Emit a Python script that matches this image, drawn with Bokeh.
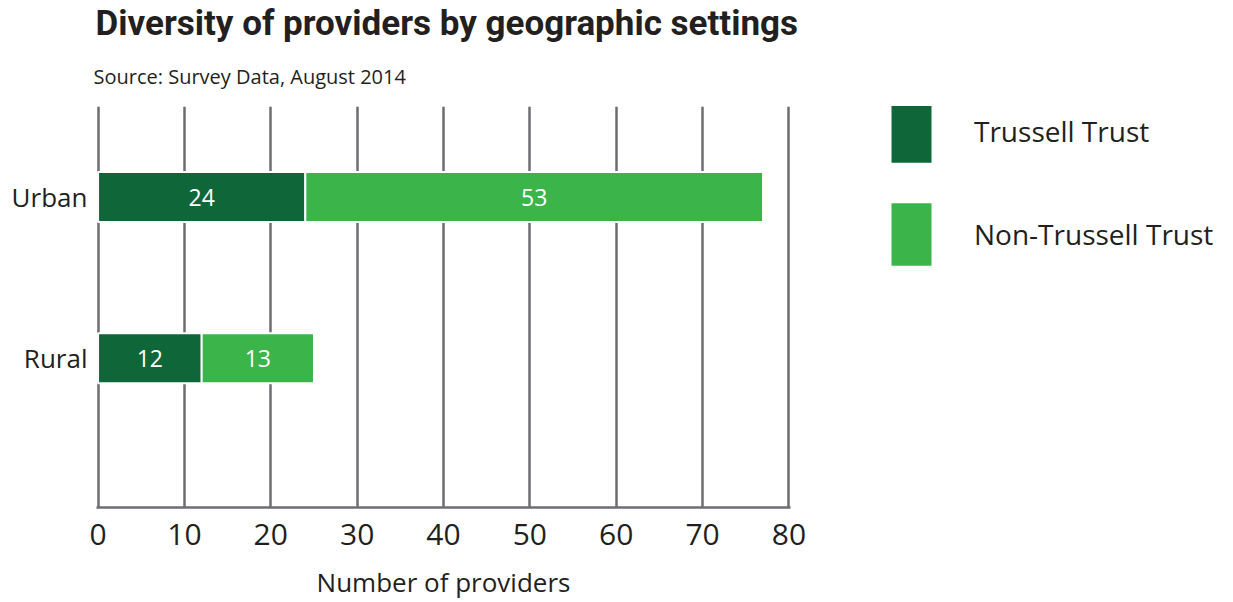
from bokeh.plotting import figure
from bokeh.layouts import row
from bokeh.models import (Range1d, FixedTicker, Legend, LegendItem, Title,
                          ColumnDataSource, LabelSet)
from bokeh.core.properties import value
from bokeh.embed import file_html
from bokeh.resources import INLINE

# ---- data ----
categories = ["Urban", "Rural"]
trussell = [24, 12]
non_trussell = [53, 13]
series_names = ["Trussell Trust", "Non-Trussell Trust"]
x_ticks = [0, 10, 20, 30, 40, 50, 60, 70, 80]

DARK = "#0f6638"
LIGHT = "#3bb54a"
GRID = "#6d6e71"
TEXT = "#231f20"
FONT = "Open Sans"

n = len(categories)
ypos = [n - i - 0.5 for i in range(n)]

src = ColumnDataSource(dict(
    y=ypos, cat=categories, tt=trussell, nt=non_trussell,
    tt_mid=[v / 2 for v in trussell],
    nt_mid=[a + b / 2 for a, b in zip(trussell, non_trussell)],
    nt_end=[a + b for a, b in zip(trussell, non_trussell)],
    tt_lbl=[str(v) for v in trussell],
    nt_lbl=[str(v) for v in non_trussell],
))

p = figure(width=860, height=602, output_backend="svg", toolbar_location=None,
           x_range=Range1d(-0.18, 80.18), y_range=Range1d(-0.426, 2.062),
           min_border_left=96, min_border_right=70, min_border_top=103,
           min_border_bottom=94, outline_line_color=None, title=None)
p.background_fill_color = "white"
p.border_fill_color = "white"

r1 = p.hbar(y="y", left=0, right="tt", height=0.31, source=src,
            fill_color=DARK, line_color="white", line_width=2)
r2 = p.hbar(y="y", left="tt", right="nt_end", height=0.31, source=src,
            fill_color=LIGHT, line_color="white", line_width=2)

for xcol, tcol in (("tt_mid", "tt_lbl"), ("nt_mid", "nt_lbl")):
    p.add_layout(LabelSet(x=xcol, y="y", text=tcol, source=src,
                          text_color="white", text_font=value(FONT),
                          text_font_size="23px", text_align="center",
                          text_baseline="middle"))

# x axis
xa = p.xaxis[0]
xa.ticker = FixedTicker(ticks=x_ticks)
xa.axis_line_color = GRID
xa.axis_line_width = 2.5
xa.major_tick_line_color = None
xa.minor_tick_line_color = None
xa.major_label_text_font = FONT
xa.major_label_text_font_size = "30px"
xa.major_label_text_color = TEXT
xa.major_label_standoff = 10
xa.axis_label = "Number of providers"
xa.axis_label_text_font = FONT
xa.axis_label_text_font_size = "26px"
xa.axis_label_text_font_style = "normal"
xa.axis_label_text_color = TEXT
xa.axis_label_standoff = 16

# y axis
ya = p.yaxis[0]
ya.ticker = FixedTicker(ticks=ypos)
ya.major_label_overrides = {y: c for y, c in zip(ypos, categories)}
ya.axis_line_color = None
ya.major_tick_line_color = None
ya.minor_tick_line_color = None
ya.major_label_text_font = FONT
ya.major_label_text_font_size = "26px"
ya.major_label_text_color = TEXT
ya.major_label_standoff = 3

p.ygrid.grid_line_color = None
p.xgrid.ticker = FixedTicker(ticks=x_ticks)
p.xgrid.grid_line_color = GRID
p.xgrid.grid_line_width = 2.5

sub = Title(text="Source: Survey Data, August 2014", text_font=FONT,
            text_font_size="20px", text_font_style="normal",
            text_color=TEXT, offset=-3, standoff=34)
main = Title(text="Diversity of providers by geographic settings",
             text_font="Roboto", text_font_size="35px", text_font_style="bold",
             text_color=TEXT, offset=-1, standoff=0)
p.add_layout(sub, "above")
p.add_layout(main, "above")

# ---- legend panel ----
pl = figure(width=373, height=602, output_backend="svg", toolbar_location=None,
            x_range=Range1d(-2, -1), y_range=Range1d(0, 1),
            x_axis_location=None, y_axis_location=None,
            min_border=0, outline_line_color=None, title=None)
pl.grid.grid_line_color = None
pl.background_fill_color = "white"
pl.border_fill_color = "white"
l1 = pl.hbar(y="y", left=0, right="tt", height=0.1, source=src,
             fill_color=DARK, line_color=None)
l2 = pl.hbar(y="y", left="tt", right="nt_end", height=0.1, source=src,
             fill_color=LIGHT, line_color=None)

legend = Legend(items=[LegendItem(label=series_names[0], renderers=[l1]),
                       LegendItem(label=series_names[1], renderers=[l2])],
                location=(26, 234), glyph_width=50, glyph_height=78,
                spacing=25, label_standoff=38, padding=0, margin=0,
                border_line_color=None, background_fill_alpha=0,
                label_text_font=FONT, label_text_font_size="28px",
                label_text_color=TEXT)
pl.add_layout(legend, "center")

layout = row(p, pl, spacing=0)
open("out.html", "w").write(file_html(layout, INLINE))
